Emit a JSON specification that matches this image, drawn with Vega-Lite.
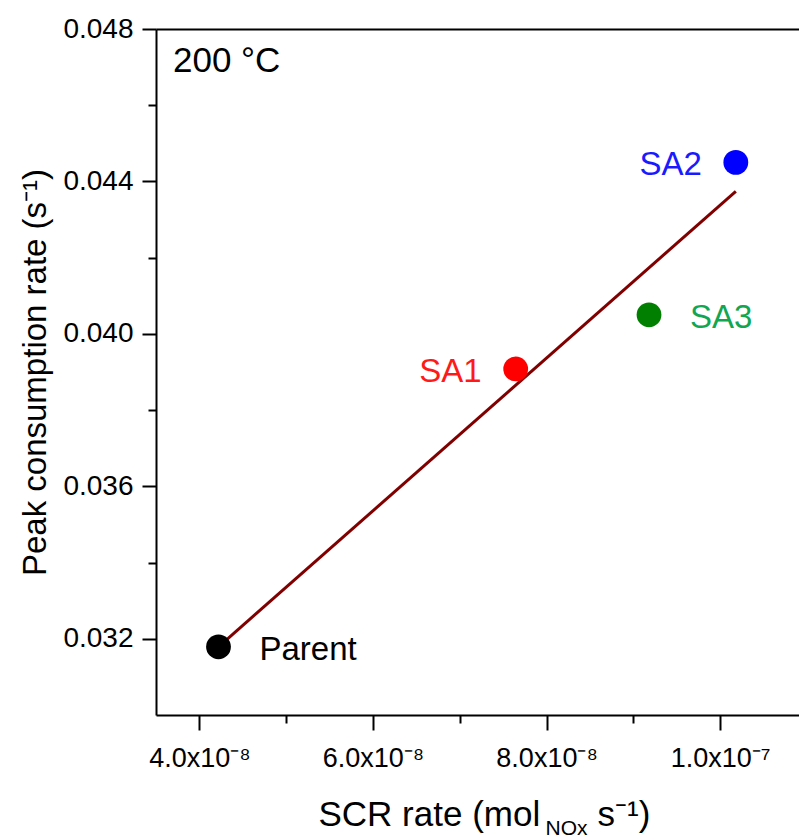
{
  "$schema": "https://vega.github.io/schema/vega-lite/v6.json",
  "autosize": {"type": "none"},
  "padding": {"left": 156, "top": 29, "right": 0, "bottom": 124},
  "width": 643,
  "height": 686,
  "background": "white",
  "config": {
    "view": {"stroke": null},
    "font": "Liberation Sans",
    "axis": {
      "grid": false,
      "domainColor": "black",
      "domainWidth": 2,
      "tickColor": "black",
      "tickWidth": 2,
      "labelColor": "black",
      "labelFont": "Liberation Sans",
      "titleFont": "Liberation Sans",
      "titleColor": "black",
      "titleFontWeight": "normal",
      "labelFlush": false,
      "labelOverlap": false,
      "labelBound": false
    }
  },
  "title": {
    "text": "200 °C",
    "anchor": "start",
    "frame": "group",
    "orient": "top",
    "offset": 0,
    "dx": 17,
    "dy": 92,
    "baseline": "alphabetic",
    "fontSize": 35,
    "fontWeight": "normal",
    "font": "Liberation Sans",
    "color": "black"
  },
  "datasets": {
    "points": [
      {"sample": "Parent", "rate": 4.22e-8, "peak": 0.03179},
      {"sample": "SA1", "rate": 7.644e-8, "peak": 0.03908},
      {"sample": "SA3", "rate": 9.18e-8, "peak": 0.0405},
      {"sample": "SA2", "rate": 1.018e-7, "peak": 0.0445}
    ],
    "fit": [
      {"rate": 4.22e-8, "peak": 0.03179},
      {"rate": 1.018e-7, "peak": 0.04374}
    ]
  },
  "layer": [
    {
      "data": {"name": "fit"},
      "mark": {"type": "line", "color": "#800000", "strokeWidth": 3, "clip": true},
      "encoding": {
        "x": {
          "field": "rate", "type": "quantitative",
          "scale": {"domain": [3.5e-8, 1.0908e-7], "nice": false, "zero": false},
          "axis": {
            "orient": "bottom",
            "values": [4e-8, 6e-8, 8e-8, 1e-7],
            "tickSize": 15,
            "labelPadding": 15,
            "labelFontSize": 27,
            "labelBaseline": "top",
            "labelExpr": "datum.value < 5e-8 ? '4.0x10⁻⁸' : datum.value < 7e-8 ? '6.0x10⁻⁸' : datum.value < 9e-8 ? '8.0x10⁻⁸' : '1.0x10⁻⁷'",
            "title": "SCR rate (mol",
            "titleFontSize": 35,
            "titleX": 162,
            "titleY": 110,
            "titleAlign": "left",
            "titleBaseline": "alphabetic"
          }
        },
        "y": {
          "field": "peak", "type": "quantitative",
          "scale": {"domain": [0.03, 0.048], "nice": false, "zero": false},
          "axis": {
            "orient": "left",
            "values": [0.032, 0.036, 0.04, 0.044, 0.048],
            "format": ".3f",
            "tickSize": 14,
            "labelPadding": 9,
            "labelFontSize": 28,
            "title": "Peak consumption rate (s⁻¹)",
            "titleFontSize": 33,
            "titleAngle": 270,
            "titleX": -111,
            "titleY": 343,
            "titleAlign": "center",
            "titleBaseline": "alphabetic"
          }
        }
      }
    },
    {
      "data": {"name": "points"},
      "mark": {"type": "circle", "size": 615, "opacity": 1},
      "encoding": {
        "x": {
          "field": "rate", "type": "quantitative",
          "axis": {
            "orient": "bottom",
            "values": [5e-8, 7e-8, 9e-8],
            "tickSize": 8,
            "labels": false,
            "domain": false,
            "title": "NOx",
            "titleFontSize": 21,
            "titleX": 389,
            "titleY": 119,
            "titleAlign": "left",
            "titleBaseline": "alphabetic"
          }
        },
        "y": {
          "field": "peak", "type": "quantitative",
          "axis": {
            "orient": "left",
            "values": [0.034, 0.038, 0.042, 0.046],
            "tickSize": 8,
            "labels": false,
            "domain": false,
            "title": null
          }
        },
        "color": {
          "field": "sample", "type": "nominal",
          "scale": {"domain": ["Parent", "SA1", "SA2", "SA3"], "range": ["#000000", "#ff0000", "#0000ff", "#007f00"]},
          "legend": null
        }
      }
    },
    {
      "data": {"name": "points"},
      "transform": [{"filter": "datum.sample == 'SA1' || datum.sample == 'SA2'"}],
      "mark": {"type": "text", "align": "right", "baseline": "alphabetic", "dx": -34, "dy": 13, "fontSize": 33, "font": "Liberation Sans"},
      "encoding": {
        "x": {
          "field": "rate", "type": "quantitative",
          "axis": {
            "orient": "bottom",
            "ticks": false,
            "labels": false,
            "domain": false,
            "title": "s⁻¹)",
            "titleFontSize": 35,
            "titleX": 441,
            "titleY": 110,
            "titleAlign": "left",
            "titleBaseline": "alphabetic"
          }
        },
        "y": {"field": "peak", "type": "quantitative", "axis": null},
        "text": {"field": "sample"},
        "color": {
          "field": "sample", "type": "nominal",
          "scale": {"domain": ["Parent", "SA1", "SA2", "SA3"], "range": ["#000000", "#ff1a1a", "#1a1aff", "#13a651"]},
          "legend": null
        }
      }
    },
    {
      "data": {"name": "points"},
      "transform": [{"filter": "datum.sample == 'Parent' || datum.sample == 'SA3'"}],
      "mark": {"type": "text", "align": "left", "baseline": "alphabetic", "dx": 41, "dy": 13, "fontSize": 33, "font": "Liberation Sans"},
      "encoding": {
        "x": {
          "field": "rate", "type": "quantitative",
          "axis": {
            "orient": "top",
            "ticks": false,
            "labels": false,
            "domain": true,
            "domainColor": "black",
            "domainWidth": 2,
            "domainOpacity": 1,
            "title": null
          }
        },
        "y": {"field": "peak", "type": "quantitative", "axis": null},
        "text": {"field": "sample"},
        "color": {
          "field": "sample", "type": "nominal",
          "scale": {"domain": ["Parent", "SA1", "SA2", "SA3"], "range": ["#000000", "#ff1a1a", "#1a1aff", "#13a651"]},
          "legend": null
        }
      }
    }
  ],
  "resolve": {
    "axis": {"x": "independent", "y": "independent"},
    "scale": {"color": "independent"}
  }
}
